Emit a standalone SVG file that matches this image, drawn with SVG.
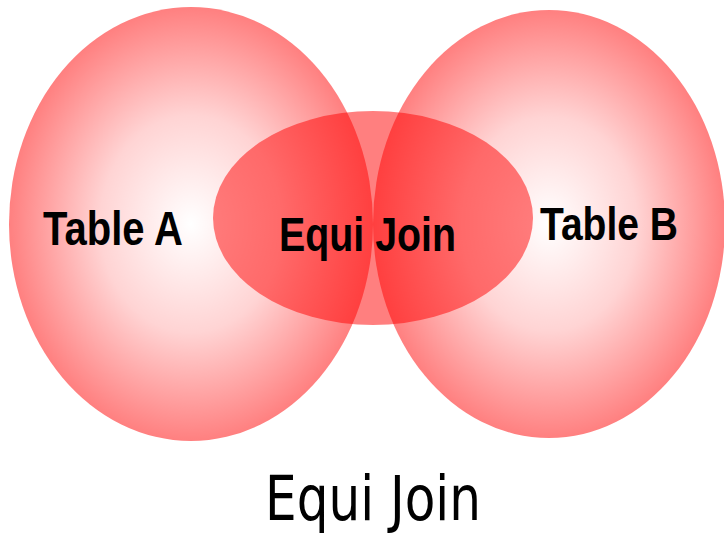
<svg xmlns="http://www.w3.org/2000/svg" width="724" height="533" viewBox="0 0 724 533">
<style>
.lbl{font-family:"Liberation Sans",Arial,sans-serif;font-weight:bold;fill:#000}
.title{font-family:"DejaVu Sans","Liberation Sans",sans-serif;fill:#000}
</style>
<defs>
<radialGradient id="g" cx="0.5" cy="0.5" r="0.5">
<stop offset="0" stop-color="#ff0000" stop-opacity="0"/>
<stop offset="0.5" stop-color="#ff0000" stop-opacity="0.17"/>
<stop offset="1" stop-color="#ff0000" stop-opacity="0.5"/>
</radialGradient>
</defs>
<rect width="724" height="533" fill="#fff"/>
<g id="equi-join-area">
<ellipse cx="373" cy="218" rx="160" ry="107" fill="#ff0000" fill-opacity="0.5"/>
</g>
<g id="table-a">
<ellipse cx="191" cy="224" rx="182" ry="217" fill="url(#g)"/>
<text class="lbl" x="43" y="245" font-size="49" textLength="140" lengthAdjust="spacingAndGlyphs">Table A</text>
</g>
<g id="table-b">
<ellipse cx="549" cy="224" rx="176" ry="214" fill="url(#g)"/>
<text class="lbl" x="540" y="240" font-size="47" textLength="138" lengthAdjust="spacingAndGlyphs">Table B</text>
</g>
<g id="equi-join-label">
<text class="lbl" x="279" y="251" font-size="48" textLength="177" lengthAdjust="spacingAndGlyphs">Equi Join</text>
</g>
<g id="connectors"></g>
<text class="title" x="265" y="520" font-size="62" textLength="216" lengthAdjust="spacingAndGlyphs">Equi Join</text>
</svg>
